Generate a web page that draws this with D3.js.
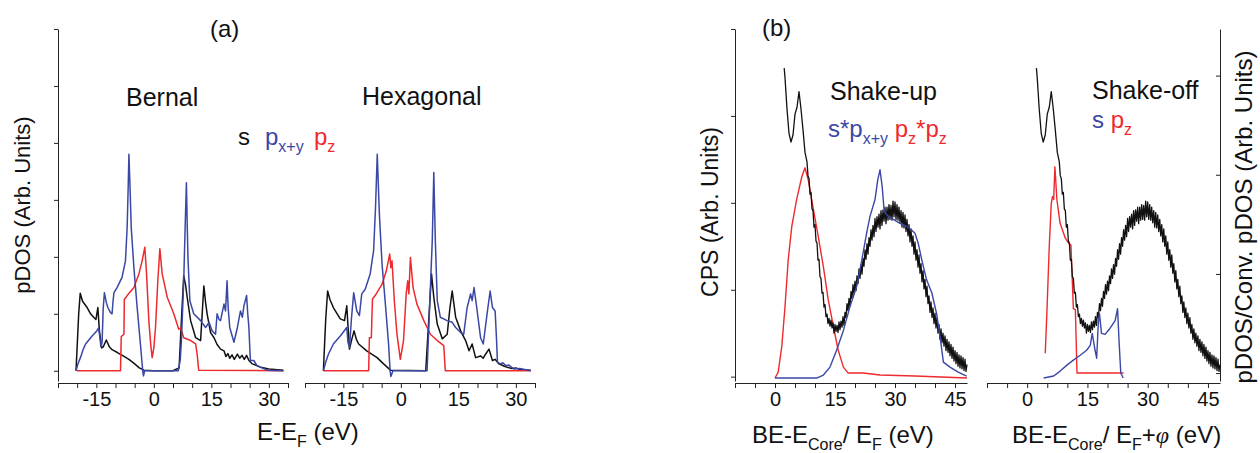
<html>
<head>
<style>
  body { margin: 0; background: #ffffff; font-family: "Liberation Sans", Arial, Helvetica, sans-serif; }
  svg { display: block; }
  .axis path, .axis line { stroke: #222; stroke-width: 1; }
  .axis text { font-size: 20px; fill: #111; font-family: "Liberation Sans", Arial, sans-serif; }
  text { white-space: pre; }
</style>
<script src="https://cdn.jsdelivr.net/npm/d3@7"></script>
</head>
<body>
<svg id="Figura"></svg>
<script>
// ---- panel (a): pDOS, [E-EF (eV), pDOS]
const bernalS = [[-20.3,0],[-19.6,1.0],[-19.2,1.36],[-18.6,1.22],[-17.4,1.11],[-16.5,1.0],[-15.7,0.94],[-15.1,0.9],[-14.6,1.11],[-14.2,0.7],[-13.6,0.4],[-13.2,0.42],[-12.4,0.54],[-11.6,0.42],[-10.9,0.37],[-9.5,0.32],[-8,0.26],[-6.5,0.2],[-5,0.12],[-3.8,0.05],[-2.6,0.01],[0,0],[5,0],[6.6,0.05],[7.2,0.9],[7.8,1.67],[8.3,1.5],[8.7,1.29],[9.6,0.88],[10.9,0.58],[12.2,0.53],[12.7,1.1],[13.05,1.49],[13.5,1.2],[13.9,1.0],[14.8,0.67],[15.7,0.58],[16.5,0.46],[17.4,0.38],[18.3,0.35],[18.8,0.25],[19.3,0.3],[19.8,0.22],[20.4,0.28],[21,0.2],[21.8,0.29],[22.4,0.22],[23,0.27],[23.6,0.2],[24.2,0.27],[24.8,0.18],[25.7,0.12],[26.5,0.1],[27.9,0.06],[30,0.03],[33.8,0.01]];
const bernalPxy = [[-20.3,0],[-19.8,0.12],[-19.15,0.23],[-18.4,0.38],[-17.8,0.47],[-16.1,0.61],[-14.9,0.7],[-14.4,0.75],[-14.1,0.6],[-13.8,0.42],[-13.5,0.5],[-13.2,1.1],[-12.9,1.37],[-12.4,1.2],[-12.0,1.11],[-11.3,1.02],[-10.9,1.0],[-10.6,1.25],[-10.4,1.37],[-9.6,1.46],[-8.3,1.64],[-7.4,1.93],[-6.96,2.52],[-6.7,3.2],[-6.5,3.8],[-6.2,3.2],[-5.9,2.52],[-5.2,1.81],[-4.35,1.11],[-3.5,0.47],[-2.9,0.0],[-2.7,-0.09],[-2.4,0.0],[6.4,0.0],[6.9,0.2],[7.2,0.53],[7.8,1.58],[8.2,2.6],[8.5,3.3],[8.7,2.6],[8.9,1.99],[9.4,1.23],[10.4,1.0],[12.2,0.88],[13.5,0.76],[14.4,0.85],[15.2,0.7],[16.1,0.64],[16.5,1.0],[17.0,0.9],[17.4,0.88],[18.3,1.17],[18.7,1.05],[19.1,1.58],[19.4,1.1],[19.8,0.76],[20.9,0.5],[21.8,0.76],[22.6,1.05],[23.1,0.94],[23.5,1.14],[24.2,1.32],[24.5,1.0],[24.8,0.76],[25.1,0.3],[25.2,0.18],[26.1,0.18],[26.8,0.1],[27.9,0.06],[29.6,0.01],[33.8,0]];
const bernalPz = [[-20.1,0],[-8.7,0],[-8.5,0.6],[-7.8,0.64],[-7.7,1.25],[-6.96,1.32],[-5.2,1.46],[-3.9,1.7],[-3.05,1.93],[-2.35,2.17],[-1.9,1.7],[-1.3,0.88],[-0.8,0.45],[-0.44,0.23],[0.0,0.4],[0.44,0.76],[1.04,1.58],[1.57,2.14],[2.18,1.7],[3.5,1.29],[5.2,1.0],[6.5,0.73],[7.0,0.75],[7.8,0.58],[9.6,0.53],[10.9,0.47],[11.3,0.29],[11.7,0.01],[33.8,0]];

const hexS = [[-20.2,0],[-19.6,0.9],[-19.1,1.40],[-18.5,1.25],[-17.6,1.11],[-15.8,0.91],[-14.7,0.88],[-14.1,1.14],[-13.8,0.8],[-13.4,0.38],[-12.8,0.55],[-12.2,0.70],[-11.6,0.55],[-11.0,0.47],[-8.9,0.35],[-6.2,0.23],[-4.5,0.12],[-2.7,0.01],[6.5,0],[7.2,0.8],[8.0,1.70],[8.6,1.29],[9.5,0.82],[10.8,0.56],[12.1,0.64],[12.8,1.1],[13.4,1.40],[14.3,0.94],[15.6,0.70],[16.9,0.53],[17.8,0.35],[18.6,0.47],[19.5,0.23],[20.8,0.26],[21.5,0.22],[22.1,0.29],[23.0,0.38],[23.9,0.18],[24.6,0.2],[25.6,0.12],[26.3,0.1],[27.0,0.08],[27.8,0.06],[29,0.04],[30,0.05],[31,0.02],[33.9,0.01]];
const hexPxy = [[-20.2,0],[-19.6,0.15],[-18.9,0.29],[-17.6,0.47],[-15.8,0.61],[-14.1,0.76],[-13.8,0.5],[-13.4,0.41],[-12.9,0.9],[-12.3,1.37],[-11.5,1.05],[-10.8,0.97],[-10.2,1.35],[-9.3,1.43],[-8.0,1.70],[-7.1,2.11],[-6.6,2.87],[-6.15,3.80],[-5.6,2.75],[-4.9,1.87],[-4.1,1.23],[-3.2,0.47],[-2.8,0.0],[-2.6,-0.1],[-2.05,0],[6.85,0],[7.5,1.11],[8.2,2.28],[8.6,3.48],[9.0,2.28],[9.5,1.23],[10.3,0.94],[12.1,0.88],[13.4,0.85],[14.3,0.76],[15.6,0.67],[16.4,0.64],[17.3,1.11],[18.2,1.35],[18.6,1.23],[19.1,1.46],[19.8,1.11],[20.8,0.58],[21.5,0.47],[22.6,1.05],[23.3,1.40],[23.9,1.11],[24.6,1.05],[25.0,0.5],[25.2,0.15],[26.0,0.12],[26.6,0.14],[27.4,0.09],[28.2,0.1],[29.5,0.03],[31,0.04],[33.9,0]];
const hexPz = [[-20.2,0],[-8.4,0],[-8.2,0.58],[-7.7,0.58],[-7.4,1.26],[-6.7,1.32],[-4.9,1.52],[-3.8,1.75],[-2.9,2.05],[-2.6,1.81],[-2.3,1.93],[-1.7,1.23],[-1.0,0.64],[-0.13,0.2],[0.7,0.53],[1.4,1.35],[1.8,1.58],[2.1,1.35],[2.5,1.99],[3.2,1.46],[4.2,1.17],[6.0,0.88],[7.7,0.64],[9.5,0.53],[11.2,0.44],[11.6,0],[33.9,0]];

// ---- panel (b): measured spectrum [BE-Ecore (eV), CPS], same in both halves
const cpsSpectrum = [[2.3,3.55],[2.5,3.44],[3.0,3.08],[3.5,2.80],[4.0,2.70],[4.5,2.78],[5.0,3.02],[5.5,3.10],[6.0,3.28],[6.5,3.08],[7.0,2.84],[7.5,2.58],
  [8.0,2.47],[8.25,2.31],[8.5,2.28],[8.75,2.10],[9.0,2.12],[9.25,1.93],[9.5,1.91],[9.75,1.72],[10.0,1.75],[10.25,1.56],[10.5,1.54],[10.75,1.34],[11.0,1.35],[11.25,1.15],[11.5,1.13],[11.75,0.96],[12.0,0.97],[12.25,0.80],[12.5,0.83],[12.75,0.69],[13.0,0.72],[13.25,0.61],[13.5,0.67],[13.75,0.58],[14.0,0.65],[14.25,0.56],[14.5,0.62],[14.75,0.50],[15.0,0.60],[15.25,0.52],[15.5,0.59],[15.75,0.51],[16.0,0.63],[16.25,0.54],[16.5,0.64],[16.75,0.57],[17.0,0.69],[17.25,0.59],[17.5,0.74],[17.75,0.68],[18.0,0.84],[18.25,0.76],[18.5,0.90],[18.75,0.81],[19.0,0.98],[19.25,0.90],[19.5,1.06],[19.75,0.95],[20.0,1.10],[20.25,0.99],[20.5,1.16],[20.75,1.07],[21.0,1.24],[21.25,1.13],[21.5,1.29],[21.75,1.18],[22.0,1.36],[22.25,1.27],[22.5,1.46],[22.75,1.35],[23.0,1.53],[23.25,1.41],[23.5,1.60],[23.75,1.50],[24.0,1.69],[24.25,1.57],[24.5,1.74],[24.75,1.61],[25.0,1.82],[25.25,1.67],[25.5,1.84],[25.75,1.72],[26.0,1.87],[26.25,1.70],[26.5,1.91],[26.75,1.74],[27.0,1.92],[27.25,1.79],[27.5,1.95],[27.75,1.76],[28.0,1.95],[28.25,1.80],[28.5,1.98],[28.75,1.81],[29.0,1.97],[29.25,1.80],[29.5,2.02],[29.75,1.84],[30.0,2.01],[30.25,1.81],[30.5,1.98],[30.75,1.80],[31.0,1.95],[31.25,1.77],[31.5,1.91],[31.75,1.72],[32.0,1.89],[32.25,1.71],[32.5,1.86],[32.75,1.67],[33.0,1.81],[33.25,1.62],[33.5,1.75],[33.75,1.55],[34.0,1.70],[34.25,1.50],[34.5,1.62],[34.75,1.41],[35.0,1.55],[35.25,1.34],[35.5,1.46],[35.75,1.26],[36.0,1.40],[36.25,1.19],[36.5,1.30],[36.75,1.09],[37.0,1.22],[37.25,1.01],[37.5,1.12],[37.75,0.92],[38.0,1.04],[38.25,0.84],[38.5,0.93],[38.75,0.74],[39.0,0.86],[39.25,0.68],[39.5,0.79],[39.75,0.61],[40.0,0.73],[40.25,0.56],[40.5,0.68],[40.75,0.50],[41.0,0.60],[41.25,0.43],[41.5,0.55],[41.75,0.39],[42.0,0.50],[42.25,0.35],[42.5,0.47],[42.75,0.30],[43.0,0.43],[43.25,0.28],[43.5,0.40],[43.75,0.24],[44.0,0.37],[44.25,0.21],[44.5,0.34],[44.75,0.18],[45.0,0.30],[45.25,0.15],[45.5,0.28],[45.75,0.12],[46.0,0.25],[46.25,0.10],[46.5,0.24],[46.75,0.09],[47.0,0.22],[47.25,0.07],[47.5,0.20],[47.75,0.06],[48.0,0.14]];

// convoluted / plain pDOS, [eV, pDOS]
const upSPxy = [[0,-0.05],[10.4,-0.05],[12.1,-0.02],[13.75,0.06],[15.4,0.23],[17.1,0.43],[18.75,0.67],[20.4,0.87],[21.7,1.14],[22.9,1.41],[23.75,1.58],[25,1.75],[25.7,1.95],[26.25,2.05],[26.8,1.88],[27.3,1.63],[28.3,1.58],[29.6,1.55],[31.25,1.51],[32.9,1.48],[34.2,1.44],[35,1.41],[35.8,1.31],[36.7,1.14],[37.9,0.94],[39.2,0.81],[40.4,0.60],[41.25,0.37],[42.1,0.11],[43.75,0.06],[45.8,0.01],[47.9,-0.03]];
const upPzPz = [[0,-0.05],[0.8,0.01],[1.7,0.27],[2.5,0.67],[3.3,1.14],[4.2,1.48],[5.4,1.75],[6.7,1.98],[7.5,2.07],[8.3,1.95],[9.6,1.65],[10.8,1.38],[12.1,1.07],[13.3,0.74],[14.6,0.47],[15.8,0.23],[17.1,0.06],[18.3,0],[22.1,0],[26.25,-0.02],[35,-0.03],[48,-0.05]];
const offS = [[4.1,-0.05],[6.6,-0.03],[8.2,0.02],[9.9,0.08],[11.5,0.13],[13.2,0.18],[14.8,0.23],[15.7,0.28],[16.2,0.40],[16.9,0.23],[17.3,0.15],[17.7,0.50],[18.0,0.60],[18.5,0.40],[19.4,0.39],[20.6,0.45],[21.9,0.53],[22.5,0.65],[22.9,0.30],[23.3,0],[23.9,-0.05]];
const offPz = [[4.5,0.20],[4.9,0.60],[5.5,1.28],[6.0,1.71],[6.3,1.78],[6.6,1.75],[6.9,2.08],[7.4,1.75],[8.2,1.51],[9.5,1.36],[10.3,1.31],[10.9,1.29],[11.1,1.07],[11.5,0.65],[12.0,0.64],[12.4,0],[24.0,0]];

// ticks
const ticksA = [-25,-20,-15,-10,-5,0,5,10,15,20,25,30,35];
const labelsA = [-15,0,15,30];
const ticksB = [-10,-5,0,5,10,15,20,25,30,35,40,45];
const labelsB = [0,15,30,45];
const ticksPdos = [0,1,2,3,4,5,6];
const ticksCps = [0,1,2,3,4];
const ticksRight = [0,1,2,3];

const BLUE = "#3a47a5";
const RED = "#ee2a2e";
const INK = "#111";

function configuracion() {
    let ancho = 1260, alto = 453;
    let svg = d3.select("#Figura").attr("width", ancho).attr("height", alto);
    let ejeY = 383;   // x-axis line
    return { ancho, alto, svg, ejeY };
}

function escalas() {
    return {
        xBernal: d3.scaleLinear().domain([-25, 35]).range([58, 288]),
        xHex: d3.scaleLinear().domain([-25, 35]).range([305, 535]),
        xUp: d3.scaleLinear().domain([-10, 48]).range([735, 967]),
        xOff: d3.scaleLinear().domain([-10, 48]).range([987, 1220]),
        yDos: d3.scaleLinear().domain([-0.18, 6]).range([381, 29]),
        yCps: d3.scaleLinear().domain([-0.05, 4]).range([381, 29]),
        yConv: d3.scaleLinear().domain([-0.08, 3.47]).range([381, 29])
    };
}

function dibujarEjeX(svg, escala, y, ticks, labels) {
    svg.append("g").attr("class", "axis")
        .attr("transform", `translate(0,${y})`)
        .call(d3.axisBottom(escala).tickValues(ticks).tickSize(5).tickSizeOuter(0).tickPadding(4)
            .tickFormat(d => labels.includes(d) ? String(d) : ""));
}

function dibujarCurva(svg, datos, x, y, color, ancho) {
    let linea = d3.line().x(d => x(d[0])).y(d => y(d[1]));
    svg.append("path").datum(datos)
        .attr("d", linea)
        .attr("fill", "none")
        .attr("stroke", color)
        .attr("stroke-width", ancho || 1.5)
        .attr("stroke-linejoin", "round");
}

// text with subscripts: partes = [[texto, color, esSub, cursiva], ...]
function texto(svg, x, y, partes, size) {
    let t = svg.append("text").attr("x", x).attr("y", y)
        .style("font-size", size + "px").attr("fill", INK);
    let shift = 0;
    partes.forEach(p => {
        let target = p[2] ? 7 : 0;
        let ts = t.append("tspan").attr("dy", target - shift).text(p[0]);
        if (p[1]) ts.attr("fill", p[1]);
        if (p[2]) ts.style("font-size", "16px");
        if (p[3]) ts.style("font-style", "italic").style("font-family", "'Liberation Serif', serif");
        shift = target;
    });
    return t;
}

function textoVertical(svg, x, y, cadena, size) {
    svg.append("text")
        .attr("transform", `translate(${x},${y}) rotate(-90)`)
        .attr("text-anchor", "middle")
        .style("font-size", size + "px")
        .attr("fill", INK)
        .text(cadena);
}

function dibujarPanelA(conf, esc) {
    let { svg, ejeY } = conf;
    svg.append("g").attr("class", "axis").attr("transform", "translate(58,0)")
        .call(d3.axisLeft(esc.yDos).tickValues(ticksPdos).tickSize(4).tickSizeOuter(0).tickFormat(""));
    dibujarEjeX(svg, esc.xBernal, ejeY, ticksA, labelsA);
    dibujarEjeX(svg, esc.xHex, ejeY, ticksA, labelsA);

    dibujarCurva(svg, bernalS, esc.xBernal, esc.yDos, INK);
    dibujarCurva(svg, bernalPz, esc.xBernal, esc.yDos, RED);
    dibujarCurva(svg, bernalPxy, esc.xBernal, esc.yDos, BLUE);

    dibujarCurva(svg, hexS, esc.xHex, esc.yDos, INK);
    dibujarCurva(svg, hexPz, esc.xHex, esc.yDos, RED);
    dibujarCurva(svg, hexPxy, esc.xHex, esc.yDos, BLUE);

    texto(svg, 210, 37, [["(a)"]], 24);
    texto(svg, 126, 106, [["Bernal"]], 25);
    texto(svg, 362, 105, [["Hexagonal"]], 25);
    texto(svg, 238, 145, [["s", INK]], 24);
    texto(svg, 265, 145, [["p", BLUE], ["x+y", BLUE, true]], 24);
    texto(svg, 314, 145, [["p", RED], ["z", RED, true]], 24);
    textoVertical(svg, 30, 205, "pDOS (Arb. Units)", 22);
    texto(svg, 257, 440, [["E-E"], ["F", null, true], [" (eV)"]], 24);
}

function dibujarPanelB(conf, esc) {
    let { svg, ejeY } = conf;
    svg.append("g").attr("class", "axis").attr("transform", "translate(735,0)")
        .call(d3.axisLeft(esc.yCps).tickValues(ticksCps).tickSize(4).tickSizeOuter(0).tickFormat(""));
    svg.append("g").attr("class", "axis").attr("transform", "translate(1220,0)")
        .call(d3.axisRight(esc.yConv).tickValues(ticksRight).tickSize(-4).tickSizeOuter(0).tickFormat(""));
    dibujarEjeX(svg, esc.xUp, ejeY, ticksB, labelsB);
    dibujarEjeX(svg, esc.xOff, ejeY, ticksB, labelsB);

    dibujarCurva(svg, upPzPz, esc.xUp, esc.yConv, RED, 1.4);
    dibujarCurva(svg, cpsSpectrum, esc.xUp, esc.yCps, INK, 1.3);
    dibujarCurva(svg, upSPxy, esc.xUp, esc.yConv, BLUE, 1.4);

    dibujarCurva(svg, offPz, esc.xOff, esc.yConv, RED, 1.4);
    dibujarCurva(svg, cpsSpectrum, esc.xOff, esc.yCps, INK, 1.3);
    dibujarCurva(svg, offS, esc.xOff, esc.yConv, BLUE, 1.4);

    texto(svg, 762, 36, [["(b)"]], 24);
    texto(svg, 830, 100, [["Shake-up"]], 25);
    texto(svg, 828, 137, [["s*p", BLUE], ["x+y", BLUE, true], [" p", RED], ["z", RED, true], ["*p", RED], ["z", RED, true]], 24);
    texto(svg, 1092, 99, [["Shake-off"]], 25);
    texto(svg, 1092, 128, [["s", BLUE], [" p", RED], ["z", RED, true]], 24);

    textoVertical(svg, 718, 212, "CPS (Arb. Units)", 23);
    textoVertical(svg, 1252, 217, "pDOS/Conv. pDOS (Arb. Units)", 24);

    texto(svg, 752, 443, [["BE-E"], ["Core", null, true], ["/ E"], ["F", null, true], [" (eV)"]], 24);
    texto(svg, 1012, 443, [["BE-E"], ["Core", null, true], ["/ E"], ["F", null, true], ["+"], ["φ", null, false, true], [" (eV)"]], 24);
}

function dibujar() {
    let conf = configuracion();
    let esc = escalas();
    dibujarPanelA(conf, esc);
    dibujarPanelB(conf, esc);
}

dibujar();
</script>
</body>
</html>
